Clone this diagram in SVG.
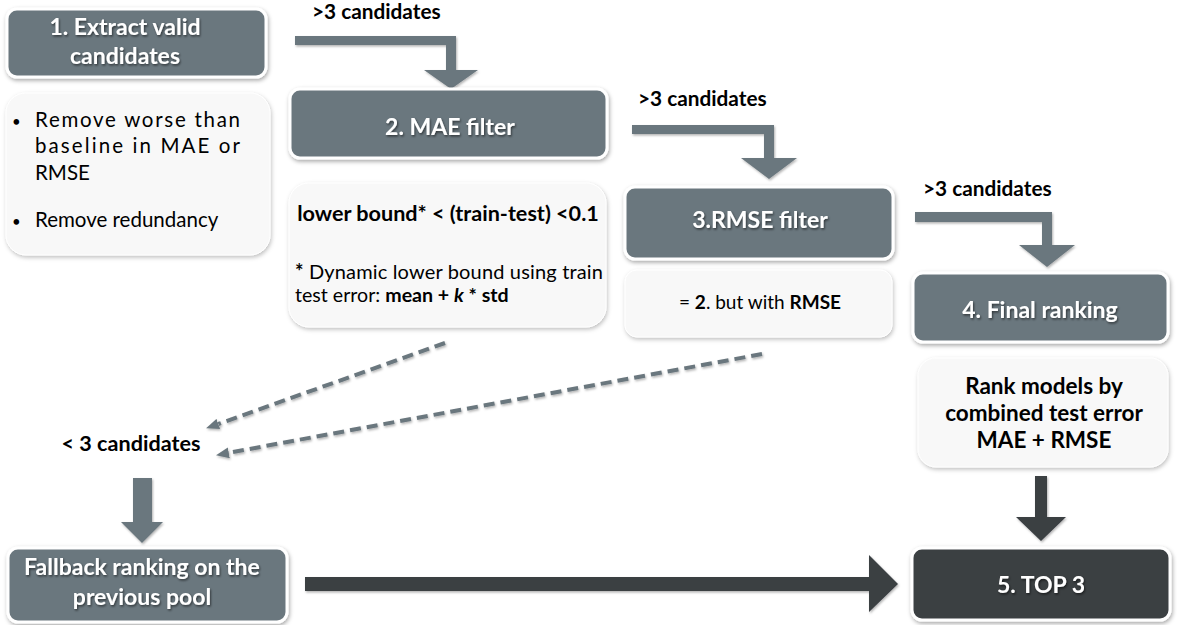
<svg xmlns="http://www.w3.org/2000/svg" width="1177" height="625" viewBox="0 0 1177 625">
  <defs>
    <filter id="boxShadow" x="-10%" y="-20%" width="120%" height="150%">
      <feDropShadow dx="1" dy="2" stdDeviation="2" flood-color="#000" flood-opacity="0.35"/>
    </filter>
    <filter id="softShadow" x="-10%" y="-20%" width="120%" height="150%">
      <feDropShadow dx="1" dy="2" stdDeviation="2" flood-color="#000" flood-opacity="0.25"/>
    </filter>
    <filter id="textShadow" x="-10%" y="-30%" width="120%" height="160%">
      <feDropShadow dx="1" dy="1.5" stdDeviation="0.8" flood-color="#000" flood-opacity="0.55"/>
    </filter>
    <filter id="lineShadow" x="-10%" y="-50%" width="120%" height="200%">
      <feDropShadow dx="1" dy="1.5" stdDeviation="1" flood-color="#000" flood-opacity="0.3"/>
    </filter>
    <marker id="dashHead" viewBox="0 0 12 10" refX="0" refY="5" markerWidth="13" markerHeight="11" markerUnits="userSpaceOnUse" orient="auto">
      <path d="M0,0 L12,5 L0,10 z" fill="#6b777e"/>
    </marker>
  </defs>
  <style>
    .hdr { fill: #6b777e; stroke: #ffffff; stroke-width: 3; filter: url(#boxShadow); }
    .dark { fill: #3b3f43; stroke: #ffffff; stroke-width: 3; filter: url(#boxShadow); }
    .body { fill: #f8f8f8; stroke: #ffffff; stroke-width: 1; filter: url(#softShadow); }
    .title { font-family: Lato, "Open Sans", sans-serif; font-weight: bold; font-size: 23px; fill: #ffffff; text-anchor: middle; filter: url(#textShadow); }
    .txt { font-family: Lato, "Open Sans", sans-serif; font-size: 20.5px; fill: #000000; }
    .bold { font-weight: bold; }
    .mid { text-anchor: middle; }
    .rank { font-size: 22.5px; }
    .lbl { font-family: Lato, "Open Sans", sans-serif; font-weight: bold; font-size: 20.8px; fill: #000000; }
    .flow { fill: #6b777e; filter: url(#lineShadow); }
    .flowDark { fill: #3b3f43; filter: url(#lineShadow); }
    .dash { fill: none; stroke: #6b777e; stroke-width: 4; stroke-dasharray: 11 6; marker-end: url(#dashHead); filter: url(#lineShadow); }
  </style>

  <rect width="1177" height="625" fill="#ffffff"/>

  <!-- connectors -->
  <g id="connectors">
    <!-- elbow arrows passing >3 candidates to the next stage -->
    <polygon class="flow" points="295,36 456,36 456,70 478,70 451,89 424,70 446,70 446,45 295,45"/>
    <polygon class="flow" points="632,125 774,125 774,158 797,158 769,179 741,158 764,158 764,134 632,134"/>
    <polygon class="flow" points="915,212 1052,212 1052,245 1075,245 1047,267 1019,245 1042,245 1042,222 915,222"/>
    <!-- fallback paths to < 3 candidates -->
    <line class="dash" x1="142" y1="262" x2="142" y2="400"/>
    <line class="dash" x1="445" y1="343" x2="218.3" y2="424"/>
    <line class="dash" x1="762" y1="354" x2="228.8" y2="452.8"/>
    <!-- < 3 candidates down to fallback ranking -->
    <polygon class="flow" points="133,478 152,478 152,522 163,522 142,543 121,522 133,522"/>
    <!-- final ranking down to top 3 -->
    <polygon class="flowDark" points="1035,476 1047,476 1047,517 1066,517 1041,541 1016,517 1035,517"/>
    <!-- fallback ranking across to top 3 -->
    <polygon class="flowDark" points="305,577 869,577 869,555 898,584 869,612 869,591 305,591"/>
  </g>

  <!-- labels on connectors -->
  <text class="lbl" x="312" y="19">&gt;3 candidates</text>
  <text class="lbl" x="638" y="106">&gt;3 candidates</text>
  <text class="lbl" x="923" y="196">&gt;3 candidates</text>
  <text class="lbl" x="131" y="451" text-anchor="middle" style="font-size:21.6px">&lt; 3 candidates</text>

  <!-- step 1 -->
  <g id="step1">
    <rect class="hdr" x="7" y="9" width="259" height="68" rx="10"/>
    <text class="title" x="125" y="35">1. Extract valid</text>
    <text class="title" x="125" y="64">candidates</text>
  </g>
  <g id="step1-notes">
    <rect class="body" x="6" y="93" width="264" height="162" rx="20"/>
    <text class="txt" x="12" y="127" style="font-size:15px">•</text>
    <text class="txt" x="35" y="127" textLength="205" lengthAdjust="spacing">Remove worse than</text>
    <text class="txt" x="35" y="153" textLength="205" lengthAdjust="spacing">baseline in MAE or</text>
    <text class="txt" x="35" y="180">RMSE</text>
    <text class="txt" x="12" y="227" style="font-size:15px">•</text>
    <text class="txt" x="35" y="227">Remove redundancy</text>
  </g>

  <!-- step 2 -->
  <g id="step2">
    <rect class="hdr" x="290" y="89" width="317" height="69" rx="10"/>
    <text class="title" x="450" y="135">2. MAE filter</text>
  </g>
  <g id="step2-notes">
    <rect class="body" x="289" y="183" width="317" height="144" rx="20"/>
    <text class="txt bold mid" x="448" y="221" style="font-size:21.6px">lower bound* &lt; (train-test) &lt;0.1</text>
    <text class="txt" x="295" y="279" style="font-size:20px" textLength="308" lengthAdjust="spacing"><tspan class="bold">*</tspan> Dynamic lower bound using train</text>
    <text class="txt" x="295" y="302" style="font-size:19.6px">test error: <tspan class="bold">mean + <tspan font-style="italic">k</tspan> * std</tspan></text>
  </g>

  <!-- step 3 -->
  <g id="step3">
    <rect class="hdr" x="625" y="187" width="268" height="72" rx="10"/>
    <text class="title" x="760" y="228">3.RMSE filter</text>
  </g>
  <g id="step3-notes">
    <rect class="body" x="625" y="270" width="267" height="67" rx="12"/>
    <text class="txt mid" x="760" y="309" style="font-size:19px">= <tspan class="bold">2</tspan>. but with <tspan class="bold">RMSE</tspan></text>
  </g>

  <!-- step 4 -->
  <g id="step4">
    <rect class="hdr" x="913" y="273" width="255" height="69" rx="10"/>
    <text class="title" x="1040" y="318">4. Final ranking</text>
  </g>
  <g id="step4-notes">
    <rect class="body" x="918" y="358" width="250" height="109" rx="18"/>
    <text class="txt bold mid rank" x="1044" y="394">Rank models by</text>
    <text class="txt bold mid rank" x="1044" y="421">combined test error</text>
    <text class="txt bold mid rank" x="1044" y="448">MAE + RMSE</text>
  </g>

  <!-- fallback -->
  <g id="fallback">
    <rect class="hdr" x="8" y="548" width="279" height="74" rx="10"/>
    <text class="title" x="142" y="575">Fallback ranking on the</text>
    <text class="title" x="142" y="605">previous pool</text>
  </g>

  <!-- step 5 -->
  <g id="step5">
    <rect class="dark" x="912" y="548" width="258" height="72" rx="10"/>
    <text class="title" x="1041" y="593">5. TOP 3</text>
  </g>
</svg>
